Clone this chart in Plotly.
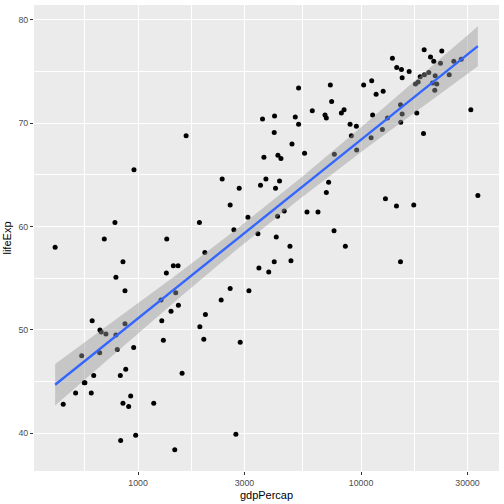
import numpy as np
import plotly.graph_objects as go

# gapminder-style data: GDP per capita vs life expectancy, one point per country
gdpPercap = [
    425, 706, 788, 959, 1345, 1643, 1885, 1993, 2384, 2589,
    2690, 2842, 3110, 3447, 3541, 3615, 3668, 3745, 4093, 4080,
    4239, 4373, 4310, 4135, 4524, 4222, 4166, 4799, 4900, 5070,
    5246, 5246, 5580, 5721, 6043, 6410, 6892, 6986, 7281, 7380,
    7588, 6986, 7155, 7565, 8503, 8158, 8390, 8926, 9045, 9526,
    9556, 10270, 11160, 11680, 12560, 11270, 11090, 12460, 13130, 12860,
    14410, 13820, 14450, 15170, 15280, 16430, 15020, 15280, 15060, 17230,
    17770, 19050, 17530, 18030, 18410, 19240, 20120, 19180, 20480, 21180,
    23010, 22700, 21490, 20900, 21850, 21400, 24840, 26050, 28120, 31060,
    33390, 856, 796, 874, 623, 675, 684, 718, 796, 874,
    559, 673, 807, 956, 633, 574, 578, 525, 617, 462,
    833, 881, 927, 856, 908, 976, 836, 1176, 1461, 1340,
    1440, 1512, 1476, 1268, 1406, 1517, 1278, 1299, 1576, 1893,
    2005, 1972, 2359, 2589, 2871, 3142, 3483, 3855, 2746, 4080,
    4849, 15020,
]
lifeExp = [
    58.0, 58.8, 60.4, 65.5, 58.8, 68.8, 60.4, 57.5, 64.6, 62.1,
    59.7, 63.7, 60.9, 59.3, 64.0, 70.4, 66.7, 64.6, 70.7, 69.1,
    66.9, 66.6, 64.4, 63.7, 61.5, 61.0, 59.0, 58.1, 68.0, 70.6,
    69.9, 73.4, 67.1, 61.4, 71.2, 61.4, 70.8, 70.5, 73.7, 72.1,
    67.0, 63.3, 64.3, 59.6, 58.1, 71.0, 71.3, 69.9, 68.8, 69.7,
    67.4, 73.7, 74.1, 72.8, 73.1, 70.8, 68.6, 69.4, 70.5, 62.7,
    62.0, 76.3, 75.4, 75.2, 74.4, 75.0, 71.8, 70.9, 70.1, 62.1,
    71.0, 69.0, 73.8, 74.0, 74.5, 74.7, 74.9, 77.1, 76.4, 76.0,
    77.0, 75.8, 74.6, 73.9, 73.8, 73.2, 74.7, 76.0, 76.2, 71.3,
    63.0, 56.6, 55.1, 53.8, 50.9, 50.0, 49.8, 49.6, 49.5, 50.6,
    47.5, 47.8, 48.1, 48.3, 45.6, 44.9, 44.9, 43.9, 43.9, 42.8,
    45.6, 46.2, 43.6, 42.9, 42.6, 39.8, 39.3, 42.9, 38.4, 55.5,
    56.2, 56.2, 53.6, 52.9, 51.8, 52.4, 50.9, 49.0, 45.8, 50.3,
    51.5, 49.1, 52.9, 54.0, 48.8, 53.8, 56.0, 55.6, 39.9, 56.6,
    56.7, 56.6,
]

x_ticks = [1000, 3000, 10000, 30000]
y_ticks = [40, 50, 60, 70, 80]

# linear model of lifeExp on log10(gdpPercap), 95% confidence band (like geom_smooth(method="lm"))
lx = np.log10(gdpPercap)
ly = np.array(lifeExp)
n = len(lx)
slope, icpt = np.polyfit(lx, ly, 1)
resid = ly - (icpt + slope * lx)
s = np.sqrt(np.sum(resid ** 2) / (n - 2))
sxx = np.sum((lx - lx.mean()) ** 2)
t_crit = 1.977  # t(0.975, df=140)

grid = np.linspace(lx.min(), lx.max(), 80)
fit = icpt + slope * grid
se = s * np.sqrt(1 / n + (grid - lx.mean()) ** 2 / sxx)
lo = fit - t_crit * se
hi = fit + t_crit * se

# ggplot-style 5% expansion
xr = [lx.min(), lx.max()]
xpad = 0.05 * (xr[1] - xr[0])
ymin = min(ly.min(), lo.min())
ymax = max(ly.max(), hi.max())
ypad = 0.05 * (ymax - ymin)

fig = go.Figure()
fig.add_trace(go.Scatter(x=gdpPercap, y=lifeExp, mode='markers',
                         marker=dict(color='black', size=5), hoverinfo='skip'))
fig.add_trace(go.Scatter(x=np.concatenate([10 ** grid, 10 ** grid[::-1]]),
                         y=np.concatenate([hi, lo[::-1]]),
                         fill='toself', fillcolor='rgba(153,153,153,0.45)',
                         line=dict(width=0), mode='lines', hoverinfo='skip'))
fig.add_trace(go.Scatter(x=10 ** grid, y=fit, mode='lines',
                         line=dict(color='#3366FF', width=2.3)))

# minor breaks halfway (in log space) between the major ones
lt = np.log10(x_ticks)
x_minor = list(10 ** ((lt[:-1] + lt[1:]) / 2)) + [10 ** (lt[0] - (lt[1] - lt[0]) / 2)]
y_minor = [45, 55, 65, 75]

fig.update_layout(
    width=504, height=504,
    margin=dict(l=34, r=5.3, t=5, b=33.3),
    paper_bgcolor='white', plot_bgcolor='#EBEBEB',
    showlegend=False,
    font=dict(family='Liberation Sans, Arial, sans-serif', color='#4D4D4D', size=8.8),
)
fig.update_xaxes(
    type='log', range=[xr[0] - xpad, xr[1] + xpad],
    tickvals=x_ticks, ticktext=[str(v) for v in x_ticks],
    ticks='outside', ticklen=3, tickwidth=1, tickcolor='#333333',
    showgrid=True, gridcolor='white', gridwidth=1.4, zeroline=False,
    minor=dict(tickvals=x_minor, showgrid=True, gridcolor='white', gridwidth=0.7, ticklen=0),
    title=dict(text='gdpPercap', font=dict(size=11, color='black'), standoff=4),
)
fig.update_yaxes(
    range=[ymin - ypad, ymax + ypad],
    tickvals=y_ticks,
    ticks='outside', ticklen=3, tickwidth=1, tickcolor='#333333',
    showgrid=True, gridcolor='white', gridwidth=1.4, zeroline=False,
    minor=dict(tickvals=y_minor, showgrid=True, gridcolor='white', gridwidth=0.7, ticklen=0),
    title=dict(text='lifeExp', font=dict(size=11, color='black'), standoff=4),
)

fig.write_html("out.html", config={'displayModeBar': False},
               post_script="document.body.style.margin='0px';")
